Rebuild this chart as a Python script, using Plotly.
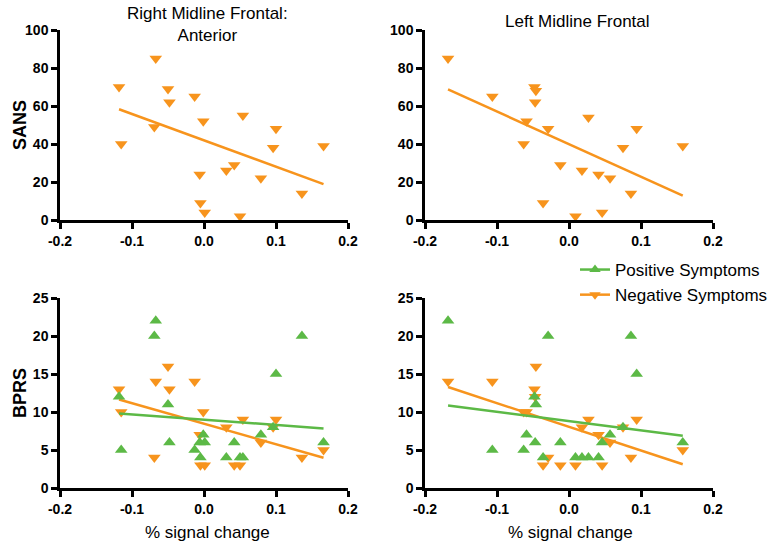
import numpy as np
import plotly.graph_objects as go

# % signal change per subject, right midline frontal anterior
right_x = [-0.118, -0.115, -0.067, -0.069, -0.050, -0.048, -0.013, -0.001, -0.006, -0.005,
           0.001, 0.031, 0.042, 0.050, 0.054, 0.079, 0.096, 0.100, 0.136, 0.166]
right_sans = [70, 40, 85, 49, 69, 62, 65, 52, 24, 9, 4, 26, 29, 2, 55, 22, 38, 48, 14, 39]
right_pos = [12, 5, 22, 20, 11, 6, 5, 7, 6, 4, 6, 4, 6, 4, 4, 7, 8, 15, 20, 6]
right_neg = [13, 10, 14, 4, 16, 13, 14, 10, 7, 3, 3, 8, 3, 3, 9, 6, 8, 9, 4, 5]

# left midline frontal
left_x = [-0.168, -0.1065, -0.048, -0.046, -0.047, -0.059, -0.063, -0.029, -0.036, -0.012,
          0.009, 0.018, 0.027, 0.041, 0.046, 0.057, 0.075, 0.086, 0.094, 0.158]
left_sans = [85, 65, 70, 68, 62, 52, 40, 48, 9, 29, 2, 26, 54, 24, 4, 22, 38, 14, 48, 39]
left_pos = [22, 5, 12, 11, 6, 7, 5, 20, 4, 6, 4, 4, 4, 4, 6, 7, 8, 20, 15, 6]
left_neg = [14, 14, 13, 16, 12, 10, 10, 4, 3, 3, 3, 8, 9, 7, 3, 6, 8, 4, 9, 5]

ORANGE = "#F7941D"
GREEN = "#5CB946"
FONT = "Arial, Liberation Sans, sans-serif"

fig = go.Figure()


def fit_line(x, y):
    m, b = np.polyfit(x, y, 1)
    xs = np.array([min(x), max(x)])
    return xs, m * xs + b


def add_group(x, y, color, symbol, xa, ya):
    fig.add_trace(go.Scatter(x=x, y=y, mode="markers", xaxis=xa, yaxis=ya,
                             marker=dict(symbol=symbol, size=11, color=color),
                             cliponaxis=False, showlegend=False))
    lx, ly = fit_line(x, y)
    fig.add_trace(go.Scatter(x=lx, y=ly, mode="lines", xaxis=xa, yaxis=ya,
                             line=dict(color=color, width=2.5),
                             showlegend=False))


add_group(right_x, right_sans, ORANGE, "triangle-down", "x", "y")
add_group(left_x, left_sans, ORANGE, "triangle-down", "x2", "y2")
add_group(right_x, right_neg, ORANGE, "triangle-down", "x3", "y3")
add_group(right_x, right_pos, GREEN, "triangle-up", "x3", "y3")
add_group(left_x, left_neg, ORANGE, "triangle-down", "x4", "y4")
add_group(left_x, left_pos, GREEN, "triangle-up", "x4", "y4")

# legend entries only
fig.add_trace(go.Scatter(x=[None], y=[None], mode="lines+markers", name="Positive Symptoms",
                         line=dict(color=GREEN, width=2.5),
                         marker=dict(symbol="triangle-up", size=10, color=GREEN)))
fig.add_trace(go.Scatter(x=[None], y=[None], mode="lines+markers", name="Negative Symptoms",
                         line=dict(color=ORANGE, width=2.5),
                         marker=dict(symbol="triangle-down", size=10, color=ORANGE)))

W, H = 771, 545


def px(x):
    return x / W


def py(y):
    return 1 - y / H


xdom_l = [px(60), px(348)]
xdom_r = [px(425), px(713)]
ydom_t = [py(220), py(30)]
ydom_b = [py(488), py(298)]

xcommon = dict(range=[-0.2, 0.2], tickvals=[-0.2, -0.1, 0, 0.1, 0.2],
               ticktext=["-0.2", "-0.1", "0.0", "0.1", "0.2"],
               showline=True, linecolor="black", linewidth=2.5, ticks="outside",
               ticklen=6, tickwidth=2.5, tickcolor="black", showgrid=False,
               zeroline=False, automargin=False,
               tickfont=dict(family=FONT, size=14, color="black", weight="bold"))
ycommon = dict(showline=True, linecolor="black", linewidth=2.5, ticks="outside",
               ticklen=6, tickwidth=2.5, tickcolor="black", showgrid=False,
               zeroline=False, automargin=False,
               tickfont=dict(family=FONT, size=14, color="black", weight="bold"))

fig.update_layout(
    width=W, height=H, margin=dict(l=0, r=0, t=0, b=0, autoexpand=False),
    plot_bgcolor="white", paper_bgcolor="white",
    font=dict(family=FONT, color="black"),
    xaxis=dict(domain=xdom_l, anchor="y", **xcommon),
    yaxis=dict(domain=ydom_t, anchor="x", range=[0, 100], dtick=20, **ycommon),
    xaxis2=dict(domain=xdom_r, anchor="y2", **xcommon),
    yaxis2=dict(domain=ydom_t, anchor="x2", range=[0, 100], dtick=20, **ycommon),
    xaxis3=dict(domain=xdom_l, anchor="y3", **xcommon),
    yaxis3=dict(domain=ydom_b, anchor="x3", range=[0, 25], dtick=5, **ycommon),
    xaxis4=dict(domain=xdom_r, anchor="y4", **xcommon),
    yaxis4=dict(domain=ydom_b, anchor="x4", range=[0, 25], dtick=5, **ycommon),
    legend=dict(x=px(575), y=py(252), xanchor="left", yanchor="top",
                font=dict(family=FONT, size=17, color="black"),
                bgcolor="rgba(0,0,0,0)", tracegroupgap=2, itemwidth=30),
    annotations=[
        dict(text="Right Midline Frontal:<br>Anterior", x=px(207), y=py(2),
             xref="paper", yref="paper", xanchor="center", yanchor="top",
             showarrow=False, font=dict(family=FONT, size=17)),
        dict(text="Left Midline Frontal", x=px(577), y=py(10),
             xref="paper", yref="paper", xanchor="center", yanchor="top",
             showarrow=False, font=dict(family=FONT, size=17)),
        dict(text="<b>SANS</b>", x=px(20), y=py(125), textangle=-90,
             xref="paper", yref="paper", xanchor="center", yanchor="middle",
             showarrow=False, font=dict(family=FONT, size=18)),
        dict(text="<b>BPRS</b>", x=px(20), y=py(393), textangle=-90,
             xref="paper", yref="paper", xanchor="center", yanchor="middle",
             showarrow=False, font=dict(family=FONT, size=18)),
        dict(text="% signal change", x=px(207), y=py(532),
             xref="paper", yref="paper", xanchor="center", yanchor="middle",
             showarrow=False, font=dict(family=FONT, size=17)),
        dict(text="% signal change", x=px(570), y=py(532),
             xref="paper", yref="paper", xanchor="center", yanchor="middle",
             showarrow=False, font=dict(family=FONT, size=17)),
    ],
)

# drop the default page margin so the figure sits at the window's corner
fig.write_html("out.html", config={"displayModeBar": False},
               post_script="document.body.style.margin='0';")
